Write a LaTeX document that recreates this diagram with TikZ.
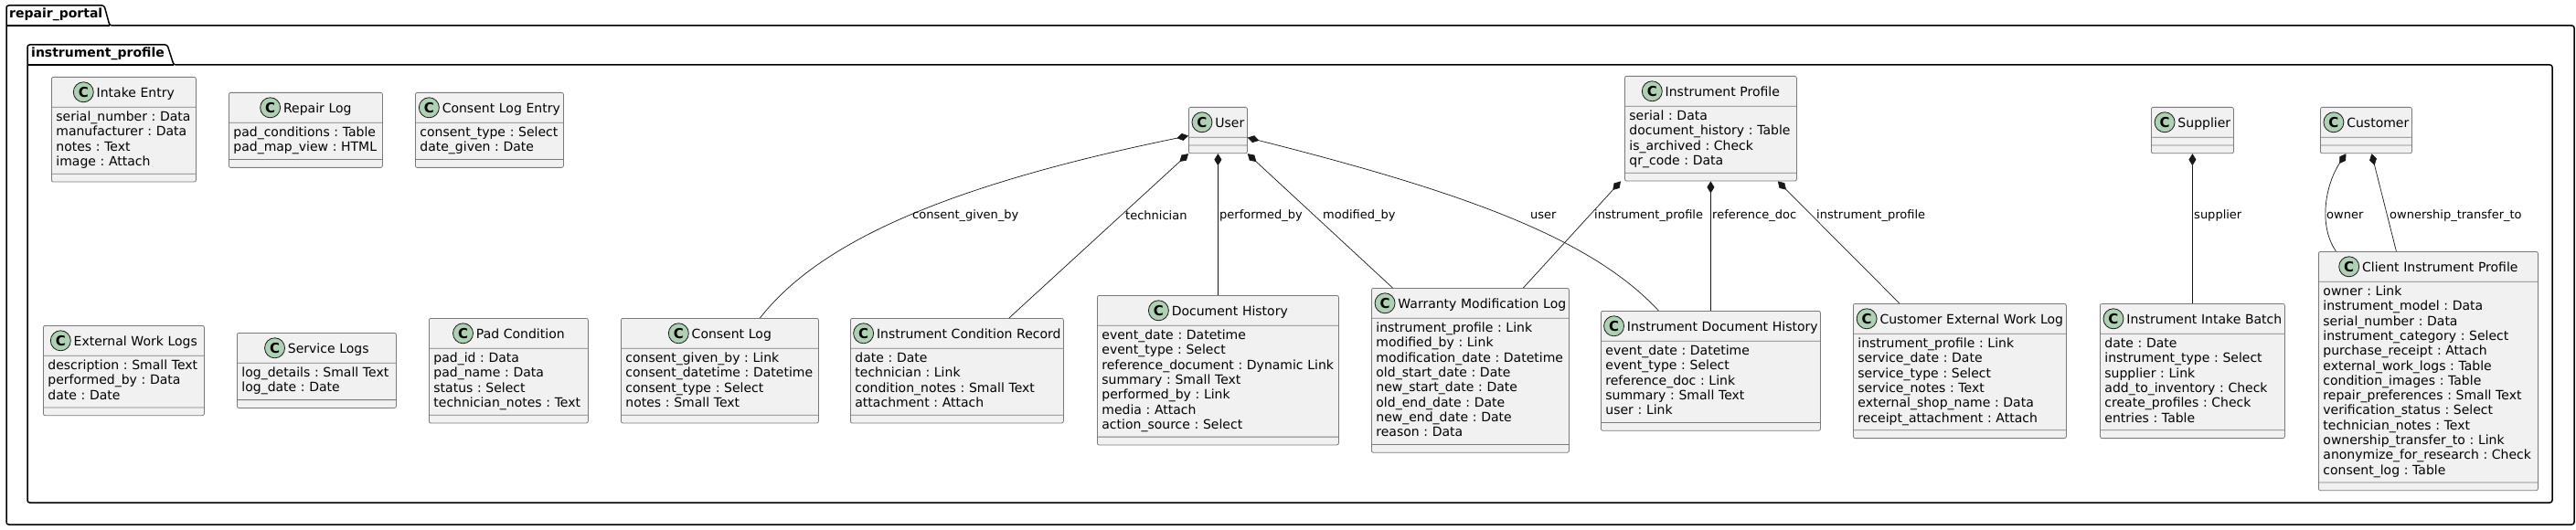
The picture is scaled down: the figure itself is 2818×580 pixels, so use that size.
\documentclass[tikz,border=0pt]{standalone}
\usepackage{fontspec}
\setmainfont{DejaVu Sans}
\usetikzlibrary{shapes.multipart,arrows.meta}
\frenchspacing

\definecolor{boxfill}{HTML}{F1F1F1}
\definecolor{boxline}{HTML}{7A7A7A}
\definecolor{iconfill}{HTML}{ADD1B2}
\definecolor{ink}{HTML}{181818}

\tikzset{
  classbox/.style={rectangle split, rectangle split parts=3, draw=boxline,
    fill=boxfill, line width=0.8pt, rounded corners=2pt, inner xsep=5pt,
    inner ysep=3.5pt, font=\fontsize{14}{16.3}\selectfont},
  comp/.style={draw=ink, line width=0.7pt,
    {Diamond[length=13pt,width=8pt,fill=ink]}-},
  lbl/.style={font=\fontsize{13}{15}\selectfont, anchor=west, inner sep=0pt},
  pkg/.style={draw=black, line width=1.5pt, rounded corners=2.5pt},
  pkglbl/.style={font=\bfseries\fontsize{14}{16}\selectfont, anchor=base west, inner sep=0pt}
}

% class icon and header row
\newcommand{\classicon}{\tikz[baseline=-5.5pt]\node[circle, anchor=center,
  text width={}, fill=iconfill, draw=ink, line width=0.8pt, minimum size=22pt,
  inner sep=0pt, rounded corners=0pt, font=\bfseries\fontsize{15}{15}\selectfont] {C};}
\newcommand{\headrow}[1]{\rule[-7pt]{0pt}{25pt}\makebox[\linewidth]{\classicon\hspace{3pt}#1}}

% name, x, y, text width, title, fields
\newcommand{\umlclass}[6]{%
  \node[classbox, text width=#4, anchor=north west] (#1) at (#2,#3)
    {\headrow{#5}\nodepart{two}\begin{tabular}[t]{@{}l@{}}#6\end{tabular}%
     \nodepart{three}\rule{0pt}{1pt}};}
\newcommand{\umlstub}[5]{%
  \node[classbox, text width=#4, anchor=north west] (#1) at (#2,#3)
    {\headrow{#5}\nodepart{two}\rule{0pt}{1pt}\nodepart{three}\rule{0pt}{1pt}};}

\begin{document}
\begin{tikzpicture}[x=1pt,y=-1pt]
  \useasboundingbox (0,0) rectangle (2818,580);

  % packages
  \draw[pkg] (7,574) -- (7,6) -- (114,6) -- (120,28) -- (2816,28) -- (2816,574) -- cycle;
  \draw[pkg] (7,28) -- (120,28);
  \node[pkglbl] (pkgouter) at (10,20) {repair\_portal};
  \draw[pkg] (30,550) -- (30,49) -- (183,49) -- (190,71) -- (2792,71) -- (2792,550) -- cycle;
  \draw[pkg] (30,71) -- (190,71);
  \node[pkglbl] (pkginner) at (34,63) {instrument\_profile};

  % loose classes
  \umlclass{intake}{56}{84}{148}{Intake Entry}{serial\_number : Data\\manufacturer : Data\\notes : Text\\image : Attach}
  \umlclass{repairlog}{250}{101}{158}{Repair Log}{pad\_conditions : Table\\pad\_map\_view : HTML}
  \umlclass{consententry}{454}{101}{152}{Consent Log Entry}{consent\_type : Select\\date\_given : Date}
  \umlclass{extwork}{47}{356}{166}{External Work Logs}{description : Small Text\\performed\_by : Data\\date : Date}
  \umlclass{servicelogs}{259}{364}{164}{Service Logs}{log\_details : Small Text\\log\_date : Date}
  \umlclass{padcond}{469}{348}{164}{Pad Condition}{pad\_id : Data\\pad\_name : Data\\status : Select\\technician\_notes : Text}

  % owners
  \umlstub{user}{1300}{117}{54}{User}
  \umlclass{iprof}{1777}{83}{178}{Instrument Profile}{serial : Data\\document\_history : Table\\is\_archived : Check\\qr\_code : Data}
  \umlstub{supplier}{2353}{117}{80}{Supplier}
  \umlstub{customer}{2538}{117}{90}{Customer}

  % linked classes
  \umlclass{consentlog}{679}{348}{206}{Consent Log}{consent\_given\_by : Link\\consent\_datetime : Datetime\\consent\_type : Select\\notes : Small Text}
  \umlclass{icr}{930}{348}{223}{Instrument Condition Record}{date : Date\\technician : Link\\condition\_notes : Small Text\\attachment : Attach}
  \umlclass{dochist}{1200}{323}{254}{Document History}{event\_date : Datetime\\event\_type : Select\\reference\_document : Dynamic Link\\summary : Small Text\\performed\_by : Link\\media : Attach\\action\_source : Select}
  \umlclass{wml}{1500}{315}{206}{Warranty Modification Log}{instrument\_profile : Link\\modified\_by : Link\\modification\_date : Datetime\\old\_start\_date : Date\\new\_start\_date : Date\\old\_end\_date : Date\\new\_end\_date : Date\\reason : Data}
  \umlclass{idh}{1751}{340}{230}{Instrument Document History}{event\_date : Datetime\\event\_type : Select\\reference\_doc : Link\\summary : Small Text\\user : Link}
  \umlclass{cewl}{2027}{332}{223}{Customer External Work Log}{instrument\_profile : Link\\service\_date : Date\\service\_type : Select\\service\_notes : Text\\external\_shop\_name : Data\\receipt\_attachment : Attach}
  \umlclass{iib}{2297}{332}{192}{Instrument Intake Batch}{date : Date\\instrument\_type : Select\\supplier : Link\\add\_to\_inventory : Check\\create\_profiles : Check\\entries : Table}
  \umlclass{cip}{2536}{275}{230}{Client Instrument Profile}{owner : Link\\instrument\_model : Data\\serial\_number : Data\\instrument\_category : Select\\purchase\_receipt : Attach\\external\_work\_logs : Table\\condition\_images : Table\\repair\_preferences : Small Text\\verification\_status : Select\\technician\_notes : Text\\ownership\_transfer\_to : Link\\anonymize\_for\_research : Check\\consent\_log : Table}

  % compositions
  \draw[comp] ([yshift=-6pt]user.west) .. controls (1050,200) and (900,260) .. ([xshift=44pt]consentlog.north);
  \draw[comp] (user.south west) -- ([xshift=57pt]icr.north);
  \draw[comp] (user.south) -- (dochist.north);
  \draw[comp] (user.south east) -- ([xshift=-85pt]wml.north);
  \draw[comp] ([yshift=-8pt]user.east) .. controls (1600,210) and (1740,260) .. ([xshift=-57pt]idh.north);
  \draw[comp] ([xshift=-4pt]iprof.south west) -- ([xshift=58pt]wml.north);
  \draw[comp] (iprof.south) -- (idh.north);
  \draw[comp] ([xshift=-21pt]iprof.south east) -- ([xshift=-66pt]cewl.north);
  \draw[comp] (supplier.south) -- (iib.north);
  \draw[comp] ([xshift=-22pt]customer.south) .. controls (2545,200) and (2535,245) .. ([xshift=-101pt]cip.north);
  \draw[comp] ([xshift=6pt]customer.south) -- ([xshift=-35pt]cip.north);

  % labels
  \node[lbl] (lconsent) at (998,236) {consent\_given\_by};
  \node[lbl] (ltech) at (1231,236) {technician};
  \node[lbl] (lperf) at (1334,236) {performed\_by};
  \node[lbl] (lmod) at (1447,236) {modified\_by};
  \node[lbl] (luser) at (1674,236) {user};
  \node[lbl] (lip) at (1744,236) {instrument\_profile};
  \node[lbl] (lref) at (1873,236) {reference\_doc};
  \node[lbl] (lip2) at (1987,236) {instrument\_profile};
  \node[lbl] (lsup) at (2400,236) {supplier};
  \node[lbl] (lowner) at (2545,236) {owner};
  \node[lbl] (ltransfer) at (2614,236) {ownership\_transfer\_to};
\end{tikzpicture}
\end{document}
